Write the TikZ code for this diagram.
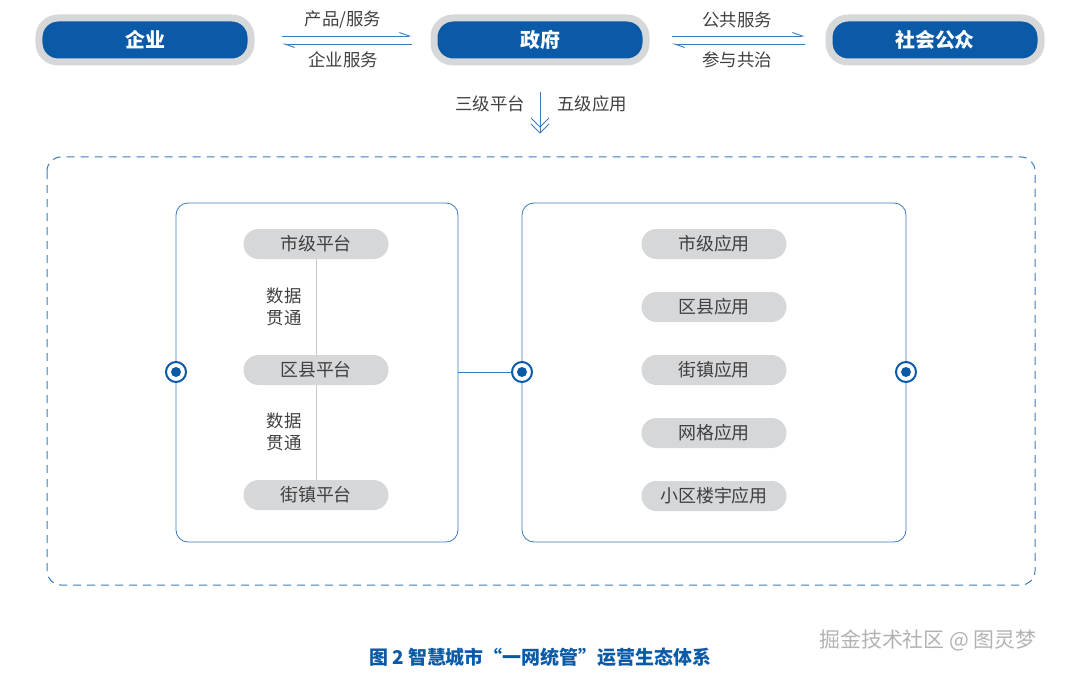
\documentclass[tikz,border=0pt]{standalone}
\usepackage{fontspec}
\setmainfont{Noto Sans CJK SC}
\usetikzlibrary{arrows.meta}
\definecolor{govblue}{HTML}{0A5AA8}
\definecolor{pillgray}{HTML}{D6D7D9}
\definecolor{linegray}{HTML}{C8C9CB}
\tikzset{
  actor/.style={rounded corners=19bp,fill=govblue,draw=pillgray,line width=7bp,minimum width=212bp,minimum height=44bp,text=white,font=\fontsize{20}{20}\selectfont\bfseries},
  level/.style={rounded corners=15bp,fill=pillgray,minimum width=145bp,minimum height=30bp,text=black!75,font=\fontsize{18}{18}\selectfont},
  note/.style={text=black!75,font=\fontsize{17.5}{22}\selectfont,align=center},
  box/.style={draw=govblue!80,line width=.8bp,rounded corners=12bp},
  hook/.style={-{Straight Barb[left,length=10bp,width=7bp]},govblue!80,line width=.9bp},
  port/.style={circle,draw=govblue,line width=2bp,fill=white,minimum size=20bp,inner sep=0pt,
    path picture={\fill[govblue] (path picture bounding box.center) circle (5bp);}}
}
\begin{document}
\begin{tikzpicture}[x=1bp,y=-1bp]
  \useasboundingbox (0,0) rectangle (1080,675);
  % actors
  \node[actor] (firm) at (145,40) {企业};
  \node[actor] (gov) at (540,40) {政府};
  \node[actor] (pub) at (935,40) {社会公众};
  \coordinate (f1) at (282,36); \coordinate (g1) at (412,36);
  \coordinate (f2) at (282,44); \coordinate (g2) at (412,44);
  \draw[hook] (f1) -- (g1);
  \draw[hook] (g2) -- (f2);
  \node[note] at (343,20) {产品/服务};
  \node[note] at (343,60) {企业服务};
  \coordinate (g3) at (672,36); \coordinate (p1) at (805,36);
  \coordinate (g4) at (672,44); \coordinate (p2) at (805,44);
  \draw[hook] (g3) -- (p1);
  \draw[hook] (p2) -- (g4);
  \node[note] at (737,20) {公共服务};
  \node[note] at (737,60) {参与共治};
  % down
  \coordinate (d1) at (540,92); \coordinate (d2) at (540,132);
  \draw[govblue!80,line width=.9bp] (d1) -- (d2);
  \draw[govblue!80,line width=.9bp] (531,118) -- (540,127) -- (549,118) (531,124) -- (540,133) -- (549,124);
  \node[note] at (490,104) {三级平台};
  \node[note] at (592,104) {五级应用};
  % frame
  \draw[govblue!80,line width=1bp,dash pattern=on 8bp off 6bp,rounded corners=14bp] (47,157) rectangle (1035,585);
  \draw[box] (176,203) rectangle (458,542);
  \draw[box] (522,203) rectangle (906,542);
  % platforms
  \draw[linegray,line width=.8bp] (316,244) -- (316,495);
  \node[level] (city) at (316,244) {市级平台};
  \node[level] (dist) at (316,370) {区县平台};
  \node[level] (town) at (316,495) {街镇平台};
  \node[note] at (284,307) {数据\\贯通};
  \node[note] at (284,432) {数据\\贯通};
  % applications
  \foreach \t [count=\i] in {市级应用,区县应用,街镇应用,网格应用,小区楼宇应用}
    \node[level] (app\i) at (714,181+63*\i) {\t};
  % ports
  \node[port] (pl) at (176,372) {};
  \node[port] (pm) at (522,372) {};
  \node[port] (pr) at (906,372) {};
  \coordinate (lb) at (458,372);
  \draw[govblue!80,line width=.9bp] (lb) -- (pm);
  % caption
  \node[text=govblue,font=\fontsize{19}{19}\selectfont\bfseries] at (540,657) {图 2 智慧城市“一网统管”运营生态体系};
  \node[text=black!30,font=\fontsize{21}{21}\selectfont] at (928,640) {掘金技术社区 @ 图灵梦};
\end{tikzpicture}
\end{document}
